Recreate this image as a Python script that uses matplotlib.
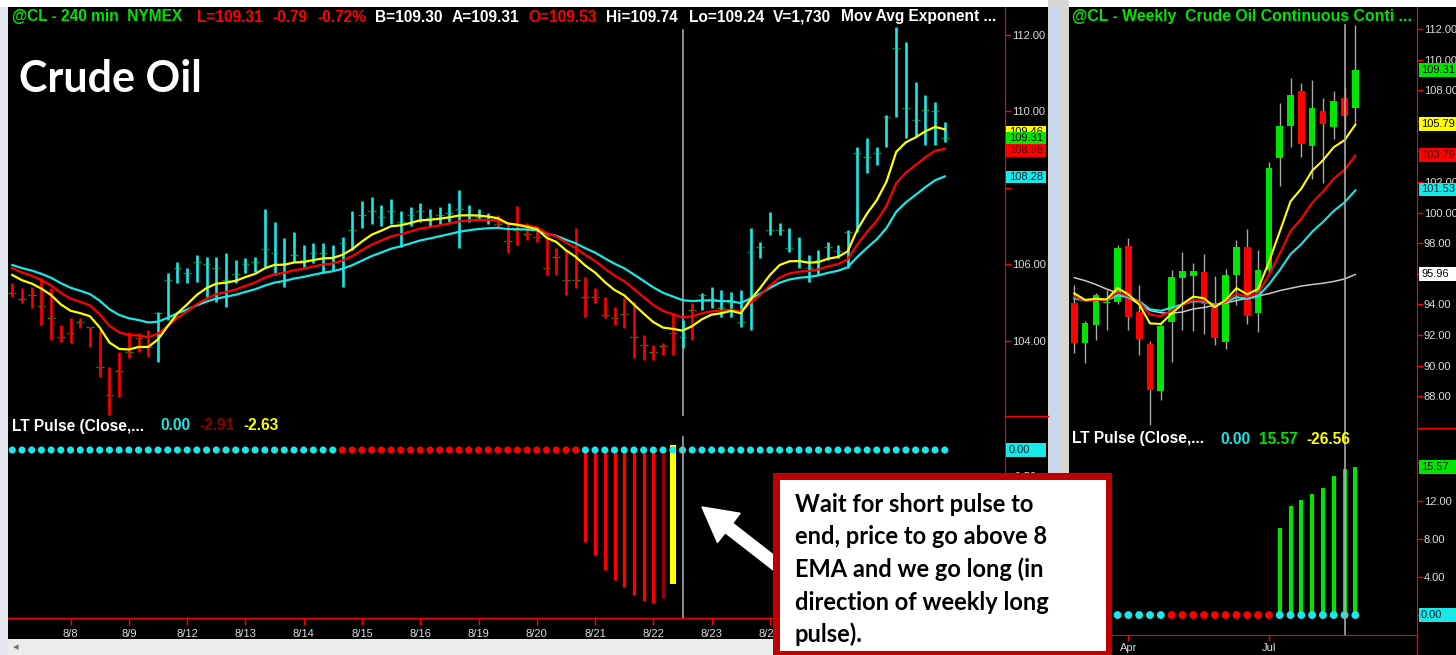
import numpy as np
import matplotlib
matplotlib.use("Agg")
import matplotlib.pyplot as plt
from matplotlib.patches import Rectangle, FancyArrow
from matplotlib.transforms import blended_transform_factory

# ---------------- 240 min bars (8/7 .. 8/26) ----------------
hi_240 = [105.50, 105.37, 105.40, 105.64, 105.37, 104.41, 104.59, 104.59, 104.36, 104.28,
          103.31, 103.70, 104.22, 104.20, 104.28, 104.75, 105.77, 106.06, 105.90, 106.24,
          106.19, 106.19, 106.30, 106.11, 106.16, 106.19, 107.45, 107.10, 106.69, 106.84,
          106.50, 106.55, 106.55, 106.50, 106.71, 107.40, 107.65, 107.75, 107.55, 107.70,
          107.40, 107.50, 107.60, 107.45, 107.50, 107.60, 107.95, 107.55, 107.45, 107.35,
          107.30, 107.10, 107.52, 107.08, 106.97, 106.82, 106.42, 106.37, 106.94, 105.66,
          105.38, 105.14, 104.88, 105.12, 105.01, 104.15, 103.88, 103.94, 104.72, 104.54,
          104.98, 105.25, 105.40, 105.32, 105.27, 105.32, 106.95, 106.58, 107.37, 107.08,
          106.95, 106.71, 106.24, 106.37, 106.58, 106.50, 106.89, 109.07, 109.30, 109.07,
          109.91, 112.21, 111.82, 110.77, 110.43, 110.25, 109.72]
lo_240 = [105.14, 104.98, 104.85, 104.41, 104.02, 103.96, 103.94, 104.33, 103.83, 103.05,
          102.05, 102.52, 103.54, 103.70, 103.57, 103.44, 104.54, 105.51, 105.51, 105.53,
          105.12, 105.01, 104.88, 105.51, 105.77, 105.80, 105.93, 105.72, 105.40, 106.06,
          105.93, 106.03, 105.77, 105.85, 105.40, 106.37, 106.95, 107.05, 107.00, 107.05,
          106.46, 107.00, 107.10, 107.00, 107.05, 107.10, 106.42, 107.10, 107.15, 107.05,
          106.95, 106.29, 106.50, 106.63, 106.58, 105.72, 105.72, 105.19, 105.38, 104.62,
          104.98, 104.59, 104.41, 104.33, 103.54, 103.49, 103.49, 103.62, 103.62, 103.81,
          104.02, 104.80, 104.85, 104.62, 104.62, 104.36, 104.28, 106.16, 106.76, 106.76,
          106.32, 105.90, 105.53, 105.72, 106.11, 106.16, 105.90, 106.84, 108.39, 108.60,
          109.07, 109.85, 109.30, 109.33, 109.12, 109.12, 109.20]
cl_240 = [105.25, 105.10, 105.19, 104.90, 104.60, 104.10, 104.20, 104.50, 104.36, 103.32,
          102.58, 103.20, 103.71, 104.07, 103.84, 104.72, 105.59, 105.90, 105.77, 106.07,
          106.00, 105.90, 105.60, 105.75, 106.00, 106.05, 106.40, 106.30, 106.00, 106.25,
          106.10, 106.30, 106.30, 106.20, 106.55, 106.90, 107.30, 107.40, 107.25, 107.40,
          107.10, 107.30, 107.40, 107.20, 107.30, 107.35, 107.45, 107.30, 107.25, 107.15,
          107.05, 106.60, 106.90, 106.80, 106.72, 105.90, 106.20, 105.60, 105.60, 105.15,
          105.15, 104.67, 104.60, 104.70, 104.10, 103.88, 103.70, 103.85, 104.19, 104.10,
          104.80, 105.19, 105.10, 104.85, 105.00, 104.49, 106.33, 106.45, 106.90, 106.90,
          106.42, 106.10, 105.90, 106.11, 106.46, 106.35, 106.85, 108.90, 108.80, 108.90,
          109.86, 111.66, 110.08, 109.77, 110.03, 110.00, 109.31]
# 1 = long (cyan bar), -1 = short (red bar)
trend_240 = [-1] * 15 + [1] * 35 + [-1] * 19 + [1, -1] + [1] * 26
ema_seed_240 = {8: 105.72, 13: 105.90, 21: 105.98}
last_240 = {"ema8": 109.46, "close": 109.31, "ema13": 108.98, "ema21": 108.28}

# LT pulse (240 min)
pulse_state_240 = [1] * 34 + [-1] * 25 + [1] * 38
pulse_240 = [0.0] * 59 + [-1.80, -2.06, -2.35, -2.55, -2.68, -2.84, -2.97, -3.00, -2.91, -2.63] + [0.0] * 28

day_start = [6, 12, 18, 24, 30, 36, 42, 48, 54, 60, 66, 72, 78]
day_labels = ["8/8", "8/9", "8/12", "8/13", "8/14", "8/15", "8/16", "8/19", "8/20",
              "8/21", "8/22", "8/23", "8/26"]
cursor_240 = 69

# ---------------- weekly candles ----------------
wk_open = [94.09, 91.50, 92.65, 94.07, 94.16, 97.82, 93.52, 91.41, 88.36, 92.87, 95.75, 95.88,
           96.14, 94.07, 91.56, 95.92, 97.77, 93.42, 96.25, 103.57, 105.66, 107.95, 104.35,
           106.64, 105.61, 107.51, 106.82]
wk_high = [95.27, 92.90, 94.74, 94.94, 97.88, 98.34, 95.27, 91.60, 92.70, 96.25, 97.44, 96.71,
           97.29, 95.86, 96.31, 98.21, 98.93, 97.56, 103.30, 107.16, 108.80, 108.47, 108.67,
           107.51, 107.97, 108.20, 112.26]
wk_low = [90.82, 90.17, 91.67, 92.33, 94.00, 92.33, 90.69, 86.10, 87.75, 90.26, 92.33, 92.28,
          92.07, 91.35, 91.08, 93.96, 92.72, 92.22, 96.00, 101.74, 104.29, 103.63, 102.20,
          101.95, 104.79, 105.40, 105.84]
wk_close = [91.48, 92.80, 94.61, 94.18, 97.69, 93.18, 91.72, 88.41, 92.59, 95.79, 96.20, 96.20,
            94.03, 91.78, 95.92, 97.77, 93.24, 96.25, 102.92, 105.66, 107.71, 104.48, 106.84,
            105.79, 107.29, 106.33, 109.31]
wk_slow_ma = [95.75, 95.55, 95.30, 95.00, 94.75, 94.45, 94.00, 93.60, 93.45, 93.42, 93.50, 93.70,
              93.80, 93.95, 94.10, 94.25, 94.40, 94.55, 94.70, 94.90, 95.05, 95.20, 95.30, 95.38,
              95.50, 95.66, 95.96]
ema_seed_wk = {8: 94.72, 13: 94.50, 21: 94.40}
last_wk = {"close": 109.31, "ema8": 105.79, "ema13": 103.79, "ema21": 101.53, "slow": 95.96}

pulse_state_wk = [0] * 4 + [1] * 5 + [-1] * 10 + [1] * 8
pulse_wk = [0.0] * 19 + [9.19, 11.47, 12.10, 12.70, 13.34, 14.63, 15.34, 15.57]
month_pos = [5, 18]
month_labels = ["Apr", "Jul"]
cursor_wk = 25

# ---------------- styling ----------------
W, H = 1456, 655
CYAN, RED, YEL, GRN = "#19e8e8", "#ff0000", "#ffff00", "#00e600"
DRED = "#8b0000"
AXTXT = "#dcdcdc"
FONT = "Liberation Sans"
TICK_FS = 8


def ema(values, seed, n):
    a = 2.0 / (n + 1)
    out = [seed]
    for v in values[1:]:
        out.append(out[-1] + a * (v - out[-1]))
    return np.array(out)


def px_box(x0, y0, x1, y1):
    return [x0 / W, 1 - y1 / H, (x1 - x0) / W, (y1 - y0) / H]


def style_pane(ax, ticks, hidden=()):
    ax.set_facecolor("black")
    for s in ("top", "left", "bottom"):
        ax.spines[s].set_visible(False)
    ax.spines["right"].set_color(RED)
    ax.yaxis.tick_right()
    ax.set_yticks(ticks)
    # labels that sit under a value tag / the callout are left blank
    ax.set_yticklabels(["" if t in hidden else f"{t:.2f}" for t in ticks], family=FONT)
    ax.tick_params(axis="y", colors=RED, labelcolor=AXTXT, length=4, width=1, pad=1,
                   labelsize=TICK_FS)
    ax.tick_params(axis="x", bottom=False, labelbottom=False)


_tag_z = [6]


def tag(ax, value, text, fc, tc, h_px, w_px):
    # each new tag is stacked above the previous one (later tags hide earlier ones)
    z = _tag_z[0]
    _tag_z[0] += 2
    pos = ax.get_position()
    aw, ah = pos.width * W, pos.height * H
    y0, y1 = ax.get_ylim()
    h = h_px * (y1 - y0) / ah
    tr = blended_transform_factory(ax.transAxes, ax.transData)
    ax.add_patch(Rectangle((1 + 1.5 / aw, value - h / 2), w_px / aw, h, transform=tr,
                           fc=fc, ec="none", clip_on=False, zorder=z))
    ax.text(1 + 4 / aw, value, text, transform=tr, color=tc, fontsize=TICK_FS, family=FONT,
            va="center", ha="left", clip_on=False, zorder=z + 1)


fig = plt.figure(figsize=(W / 100, H / 100), dpi=100, facecolor="black")

# background frame pieces
bg = fig.add_axes([0, 0, 1, 1], zorder=-5)
bg.set_xlim(0, W)
bg.set_ylim(H, 0)
bg.axis("off")
bg.add_patch(Rectangle((0, 0), 8, H, fc="#e2e6ec", ec="none"))
bg.add_patch(Rectangle((0, 0), W, 6.5, fc="white", ec="none"))
bg.add_patch(Rectangle((8, 639), 1040, 20, fc="#ececec", ec="none"))
bg.add_patch(Rectangle((1048, 0), 21, H, fc="#d6d6d6", ec="none"))
bg.add_patch(Rectangle((1049, 6.5), 10, H, fc="#c8d8ea", ec="none"))
bg.text(13, 647, "\u25c2", color="#707070", fontsize=8, va="center")

x240 = np.arange(len(cl_240))
xwk = np.arange(len(wk_close))

# ---- left price pane ----
ax1 = fig.add_axes(px_box(8, 6.7, 1005, 416))
ax1.set_xlim(-0.44, 102.2)
ax1.set_ylim(102.03, 112.74)
style_pane(ax1, [104, 106, 108, 110, 112], hidden=(108,))

bar_col = [CYAN if t > 0 else RED for t in trend_240]
ax1.vlines(x240, lo_240, hi_240, colors=bar_col, lw=1.9, zorder=3)
ax1.hlines(cl_240, x240 - 0.4, x240 - 0.15, colors="#1b8f1b", lw=1, zorder=3)
ax1.hlines(cl_240, x240 + 0.15, x240 + 0.4, colors="#1b8f1b", lw=1, zorder=3)
for n, c in [(21, CYAN), (13, RED), (8, YEL)]:
    ax1.plot(x240, ema(cl_240, ema_seed_240[n], n), color=c, lw=1.6, zorder=4)
ax1.axvline(cursor_240, ymin=0, ymax=0.943, color="#a8a8a8", lw=1.2, zorder=2)

tag(ax1, last_240["ema8"], f"{last_240['ema8']:.2f}", YEL, "black", 12.5, 40)
tag(ax1, last_240["ema13"], f"{last_240['ema13']:.2f}", RED, "#3a0000", 12.5, 40)
tag(ax1, last_240["ema21"], f"{last_240['ema21']:.2f}", CYAN, "#002a3a", 12.5, 40)
tag(ax1, last_240["close"], f"{last_240['close']:.2f}", GRN, "black", 12.5, 40)

# ---- left pulse pane ----
ax2 = fig.add_axes(px_box(8, 416, 1005, 618))
ax2.set_xlim(-0.44, 102.2)
ax2.set_ylim(-3.294, 0.667)
style_pane(ax2, [0, -0.5, -1.0, -1.5, -2.0, -2.5, -3.0], hidden=(0, -1.0, -1.5, -2.0, -2.5, -3.0))
ax2.spines["bottom"].set_visible(True)
ax2.spines["bottom"].set_color(RED)
ax2.set_xticks(day_start)
ax2.set_xticklabels(day_labels, family=FONT)
ax2.tick_params(axis="x", bottom=True, labelbottom=True, colors=RED, labelcolor=AXTXT,
                length=5, width=1, pad=3, labelsize=TICK_FS)

bars = [(i, v) for i, v in enumerate(pulse_240) if v != 0]
for k, (i, v) in enumerate(bars):
    if k == len(bars) - 1:
        ax2.vlines(i, 0.1, v, colors=YEL, lw=4.4, zorder=3)
    elif k == len(bars) - 2:
        ax2.vlines(i, 0, v, colors="#9a0000", lw=2.4, zorder=3)
    else:
        ax2.vlines(i, 0, v, colors=RED, lw=2.4, zorder=3)
ax2.scatter(x240, np.zeros(len(x240)), s=26, marker="o", zorder=4, linewidths=0,
            c=[CYAN if s > 0 else RED for s in pulse_state_240])
ax2.axvline(cursor_240, ymin=0, ymax=0.896, color="#a8a8a8", lw=1.2, zorder=5)
tag(ax2, 0.0, "0.00", CYAN, "#002a3a", 14, 40)

# ---- right price pane (weekly) ----
ax3 = fig.add_axes(px_box(1069, 6.7, 1417, 428.3))
ax3.set_xlim(-0.49, 31.7)
ax3.set_ylim(85.9, 113.46)
style_pane(ax3, list(range(88, 113, 2)), hidden=(96, 104, 106))

ax3.vlines(xwk, wk_low, wk_high, colors="#a8a8a8", lw=1.0, zorder=2)
up = np.array(wk_close) >= np.array(wk_open)
ax3.bar(xwk, np.array(wk_close) - np.array(wk_open), bottom=wk_open, width=0.62,
        color=[GRN if u else RED for u in up], zorder=3)
ax3.plot(xwk, wk_slow_ma, color="#c8c8c8", lw=1.1, zorder=4)
for n, c in [(21, CYAN), (13, RED), (8, YEL)]:
    ax3.plot(xwk, ema(wk_close, ema_seed_wk[n], n), color=c, lw=1.5, zorder=4)
ax3.axvline(cursor_wk, ymin=0, ymax=0.957, color="#a8a8a8", lw=1.2, zorder=5)

tag(ax3, last_wk["slow"], f"{last_wk['slow']:.2f}", "white", "black", 14, 40)
tag(ax3, last_wk["ema21"], f"{last_wk['ema21']:.2f}", CYAN, "#002a3a", 13, 40)
tag(ax3, last_wk["ema13"], f"{last_wk['ema13']:.2f}", RED, "#3a0000", 14, 40)
tag(ax3, last_wk["ema8"], f"{last_wk['ema8']:.2f}", YEL, "black", 14, 40)
tag(ax3, last_wk["close"], f"{last_wk['close']:.2f}", GRN, "black", 14, 40)

# ---- right pulse pane (weekly) ----
ax4 = fig.add_axes(px_box(1069, 428.3, 1417, 635))
ax4.set_xlim(-0.49, 31.7)
ax4.set_ylim(-2.1, 19.65)
style_pane(ax4, [0, 4, 8, 12, 16], hidden=(0, 16))
ax4.spines["bottom"].set_visible(True)
ax4.spines["bottom"].set_color(RED)
ax4.set_xticks(month_pos)
ax4.set_xticklabels(month_labels, family=FONT)
ax4.tick_params(axis="x", bottom=True, labelbottom=True, colors=RED, labelcolor=AXTXT,
                length=4, width=1, pad=2, labelsize=TICK_FS)
for i, v in enumerate(pulse_wk):
    if v > 0:
        ax4.vlines(i, 0, v, colors=GRN, lw=2.9, zorder=3)
dots = [(i, s) for i, s in enumerate(pulse_state_wk) if s != 0]
ax4.scatter([d[0] for d in dots], np.zeros(len(dots)), s=32, marker="o", linewidths=0,
            c=[CYAN if d[1] > 0 else RED for d in dots], zorder=4)
ax4.axvline(cursor_wk, color="#a8a8a8", lw=1.2, zorder=5)
tag(ax4, pulse_wk[-1], f"{pulse_wk[-1]:.2f}", GRN, "black", 14, 40)
tag(ax4, 0.0, "0.00", CYAN, "#002a3a", 14, 40)

# ---------------- overlay: frame lines, texts, callout ----------------
ov = fig.add_axes([0, 0, 1, 1], zorder=10)
ov.set_xlim(0, W)
ov.set_ylim(H, 0)
ov.axis("off")
ov.patch.set_alpha(0)
ov.plot([1005, 1048], [416, 416], color=RED, lw=1)
ov.plot([1005, 1005], [618, 639], color=RED, lw=1)
ov.plot([1417, 1456], [428.3, 428.3], color=RED, lw=1)
ov.plot([1417, 1417], [635, 655], color=RED, lw=1)

HDR_FS = 11.2
hdr = [(12, "@CL - 240 min  NYMEX", GRN), (197, "L=109.31", RED), (272, "-0.79", RED),
       (317, "-0.72%", RED), (375, "B=109.30", "white"), (452, "A=109.31", "white"),
       (528, "O=109.53", RED), (606, "Hi=109.74", "white"), (689, "Lo=109.24", "white"),
       (773, "V=1,730", "white"), (841, "Mov Avg Exponent ...", "white")]
for x, s, c in hdr:
    ov.text(x, 17, s, color=c, fontsize=HDR_FS, fontweight="bold", family=FONT, va="center")
ov.text(1072, 17, "@CL - Weekly  Crude Oil Continuous Conti ...", color=GRN, fontsize=11.4,
        fontweight="bold", family=FONT, va="center")

ov.text(19, 92, "Crude Oil", color="white", fontsize=31, fontweight="bold", family="Lato",
        va="baseline")

for x, s, c in [(12, "LT Pulse (Close,...", "white"), (160, "0.00", CYAN), (199, "-2.91", DRED),
                (243, "-2.63", YEL)]:
    ov.text(x, 426, s, color=c, fontsize=HDR_FS, fontweight="bold", family=FONT, va="center")
for x, s, c in [(1072, "LT Pulse (Close,...", "white"), (1220, "0.00", CYAN),
                (1259, "15.57", GRN), (1306, "-26.56", YEL)]:
    ov.text(x, 439, s, color=c, fontsize=HDR_FS, fontweight="bold", family=FONT, va="center")

# callout arrow and box
ov.add_patch(FancyArrow(792, 577, 702 - 792, 507 - 577, width=12, head_width=37,
                        head_length=34, length_includes_head=True, color="white", zorder=1))
ov.add_patch(Rectangle((773, 473), 339, 186, fc="#c00000", ec="none", zorder=2))
ov.add_patch(Rectangle((779.5, 479.5), 326, 171, fc="white", ec="none", zorder=3))
note = ["Wait for short pulse to", "end, price to go above 8", "EMA and we go long (in",
        "direction of weekly long", "pulse)."]
for k, line in enumerate(note):
    ov.text(795, 512 + 32.5 * k, line, color="black", fontsize=17, fontweight="bold",
            family="Lato", va="baseline", zorder=4)

fig.savefig("out.png", dpi=100, facecolor="black")
